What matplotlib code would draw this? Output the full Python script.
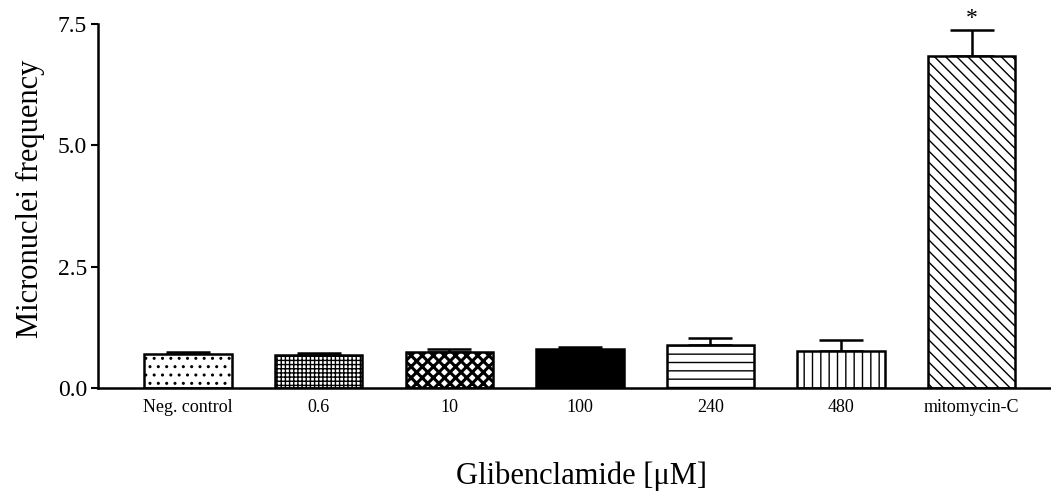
import matplotlib
matplotlib.use("Agg")
import matplotlib.pyplot as plt
import numpy as np

categories = ["Neg. control", "0.6", "10", "100", "240", "480", "mitomycin-C"]
means = [0.70, 0.67, 0.74, 0.81, 0.89, 0.77, 6.85]
errors = [0.05, 0.05, 0.06, 0.03, 0.14, 0.22, 0.52]
hatches = ["..", "++++", "xxx", "", "--", "||", "\\\\\\"]
facecolors = ["white", "white", "white", "black", "white", "white", "white"]
yticks = [0.0, 2.5, 5.0, 7.5]
ytick_labels = ["0.0", "2.5", "5.0", "7.5"]

plt.rcParams["font.family"] = ["Liberation Serif", "DejaVu Serif"]
plt.rcParams["hatch.linewidth"] = 1.0

fig = plt.figure(figsize=(10.51, 4.92), dpi=100)
ax = fig.add_axes([98 / 1051, 104 / 492, (1050 - 98) / 1051, (388 - 24) / 492])

x = np.arange(len(categories))
bars = ax.bar(x, means, width=0.67, color=facecolors, edgecolor="black",
              linewidth=1.8, zorder=2)
for b, h in zip(bars, hatches):
    b.set_hatch(h)
if hasattr(bars[2], "set_hatch_linewidth"):
    bars[2].set_hatch_linewidth(2.2)

ax.errorbar(x, means, yerr=[np.zeros(len(means)), errors], fmt="none",
            ecolor="black", elinewidth=1.8, capsize=16, capthick=1.8, zorder=1)

ax.text(x[-1], means[-1] + errors[-1] + 0.03, "*", ha="center", va="bottom",
        fontsize=17)

ax.set_xlim(-0.69, 6.6)
ax.set_ylim(0, 7.5)
ax.set_yticks(yticks)
ax.set_yticklabels(ytick_labels, fontsize=17)
ax.set_xticks(x)
ax.set_xticklabels(categories, fontsize=13)
ax.tick_params(axis="x", length=0, pad=8)
ax.tick_params(axis="y", length=5, width=1.5, pad=3)
for s in ["top", "right"]:
    ax.spines[s].set_visible(False)
for s in ["left", "bottom"]:
    ax.spines[s].set_linewidth(1.8)

ax.set_ylabel("Micronuclei frequency", fontsize=22)
ax.set_xlabel("Glibenclamide [\u03bcM]", fontsize=22)
ax.yaxis.set_label_coords(-68 / 952, 0.52)
ax.xaxis.set_label_coords((581 - 98) / 952, -(476 - 388) / 364)
ax.xaxis.label.set_va("center")
ax.yaxis.label.set_va("center")

fig.savefig("out.png", dpi=100)
